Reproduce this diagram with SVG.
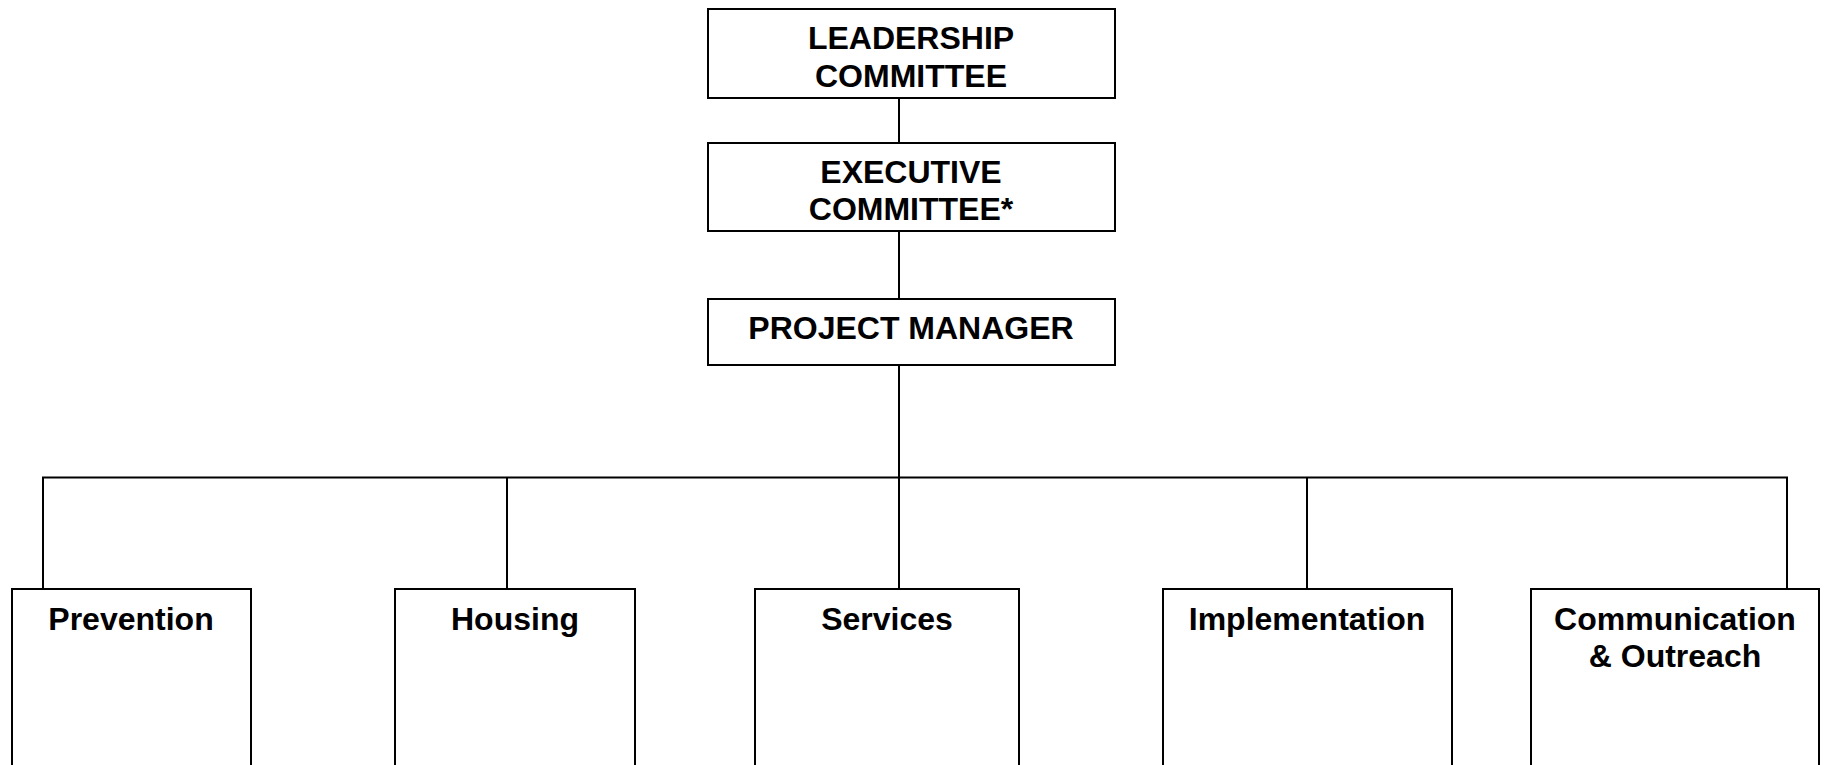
<svg xmlns="http://www.w3.org/2000/svg" width="1825" height="765" viewBox="0 0 1825 765">
<style>
.box{fill:#fff;stroke:#000;stroke-width:2}
.conn line{stroke:#000;stroke-width:2}
text{font-family:"Liberation Sans",Arial,sans-serif;font-weight:bold;font-size:32px;fill:#000;text-anchor:middle}
</style>
<rect width="1825" height="765" fill="#fff"/>
<g id="connectors" class="conn">
<line x1="899" y1="98" x2="899" y2="143"/>
<line x1="899" y1="231" x2="899" y2="299"/>
<line x1="899" y1="365" x2="899" y2="589"/>
<line x1="42" y1="477.5" x2="1788" y2="477.5"/>
<line x1="43" y1="477" x2="43" y2="589"/>
<line x1="507" y1="477" x2="507" y2="589"/>
<line x1="1307" y1="477" x2="1307" y2="589"/>
<line x1="1787" y1="477" x2="1787" y2="589"/>
</g>
<g id="leadership">
<rect class="box" x="708" y="9" width="407" height="89"/>
<text x="911" y="49">LEADERSHIP</text>
<text x="911" y="87">COMMITTEE</text>
</g>
<g id="executive">
<rect class="box" x="708" y="143" width="407" height="88"/>
<text x="911" y="183">EXECUTIVE</text>
<text x="911" y="220">COMMITTEE*</text>
</g>
<g id="project-manager">
<rect class="box" x="708" y="299" width="407" height="66"/>
<text x="911" y="339">PROJECT MANAGER</text>
</g>
<g id="prevention">
<rect class="box" x="12" y="589" width="239" height="190"/>
<text x="131" y="630">Prevention</text>
</g>
<g id="housing">
<rect class="box" x="395" y="589" width="240" height="190"/>
<text x="515" y="630">Housing</text>
</g>
<g id="services">
<rect class="box" x="755" y="589" width="264" height="190"/>
<text x="887" y="630">Services</text>
</g>
<g id="implementation">
<rect class="box" x="1163" y="589" width="289" height="190"/>
<text x="1307" y="630">Implementation</text>
</g>
<g id="communication">
<rect class="box" x="1531" y="589" width="288" height="190"/>
<text x="1675" y="630">Communication</text>
<text x="1675" y="667">&amp; Outreach</text>
</g>
</svg>
